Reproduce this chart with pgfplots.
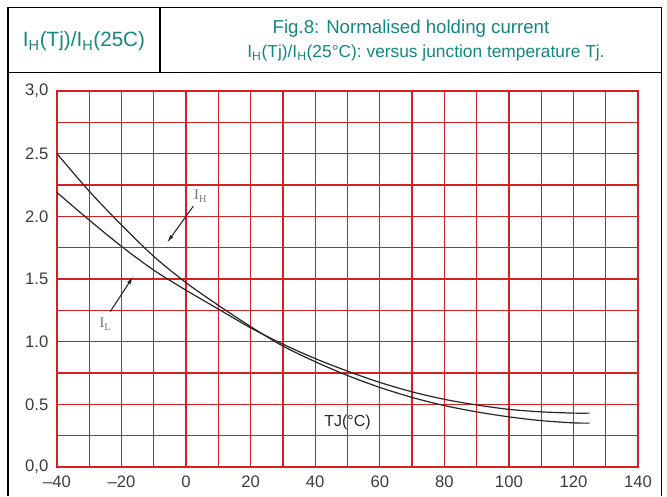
\documentclass[border=0pt]{standalone}
\usepackage{fontspec}
\setmainfont{Liberation Sans}
\newfontfamily\seriffont{Liberation Serif}
\usepackage{pgfplots}
\pgfplotsset{compat=1.18}
\usetikzlibrary{arrows.meta}
\definecolor{tealtext}{RGB}{20,135,128}
\definecolor{gridred}{RGB}{212,32,36}
\definecolor{ticktext}{RGB}{60,60,60}
\begin{document}
\begin{tikzpicture}[x=0.75pt,y=0.75pt]
\useasboundingbox (0,0) rectangle (667,496);
% frame and header
\draw[line width=1.1pt] (8,0) -- (8,488.7) -- (661.7,488.7) -- (661.7,0);
\draw[line width=1.1pt] (8,423.3) -- (661.7,423.3);
\draw[line width=1.1pt] (160,423.3) -- (160,488.7);
\node[text=tealtext, font=\fontsize{15.5}{18}\selectfont, anchor=base] at (84,449) {I\textsubscript{H}(Tj)/I\textsubscript{H}(25C)};
\node[text=tealtext, font=\fontsize{14}{17}\selectfont, anchor=base] at (411,462) {Fig.8: Normalised holding current};
\node[text=tealtext, font=\fontsize{13}{16}\selectfont, anchor=base] at (426,438) {I\textsubscript{H}(Tj)/I\textsubscript{H}(25°C): versus junction temperature Tj.};
\begin{axis}[
  at={(42.75pt,21.75pt)}, anchor=south west,
  scale only axis, width=435.75pt, height=282pt,
  xmin=-40, xmax=140, ymin=0, ymax=3,
  xtick={-40,-20,0,20,40,60,80,100,120,140},
  xticklabels={–40,–20,0,20,40,60,80,100,120,140},
  minor xtick={-30,-10,10,30,50,70,90,110,130},
  ytick={0,0.5,1,1.5,2,2.5,3},
  yticklabels={{0,0},0.5,1.0,1.5,2.0,2.5,{3,0}},
  minor ytick={0.25,0.75,1.25,1.75,2.25,2.75},
  grid=both,
  grid style={gridred, line width=0.95pt},
  major grid style={gridred, line width=0.95pt},
  minor grid style={gridred, line width=0.95pt},
  axis line style={gridred, line width=0.95pt},
  major tick length=0pt, minor tick length=0pt,
  tick label style={text=ticktext, font=\fontsize{12.5}{14}\selectfont},
  yticklabel style={xshift=-3pt},
  xticklabel style={yshift=-3pt},
  clip=false,
]
\addplot[smooth, line width=0.9pt, color=black!85] coordinates {
(-40,2.50) (-30,2.20) (-20,1.93) (-10,1.68) (0,1.47) (10,1.29) (20,1.12) (30,0.965) (40,0.84) (50,0.73) (60,0.635) (70,0.555) (80,0.49) (90,0.44) (100,0.40) (110,0.37) (120,0.352) (125,0.35)
};
\addplot[smooth, line width=0.9pt, color=black!85] coordinates {
(-40,2.19) (-30,1.97) (-20,1.76) (-10,1.57) (0,1.41) (10,1.26) (20,1.11) (30,0.98) (40,0.865) (50,0.765) (60,0.675) (70,0.60) (80,0.54) (90,0.495) (100,0.46) (110,0.44) (120,0.43) (125,0.43)
};
\draw[-{Latex[length=6pt,width=3pt]}, line width=0.8pt, black!85] (axis cs:2.2,2.08) -- (axis cs:-5.9,1.79);
\draw[-{Latex[length=6pt,width=3pt]}, line width=0.8pt, black!85] (axis cs:-23.5,1.24) -- (axis cs:-16.4,1.52);
\node[font=\seriffont\fontsize{11}{12}\selectfont, text=black!55] at (axis cs:4.5,2.16) {I\textsubscript{H}};
\node[font=\seriffont\fontsize{11}{12}\selectfont, text=black!55] at (axis cs:-25,1.14) {I\textsubscript{L}};
\node[font=\fontsize{12}{14}\selectfont, text=black!85] at (axis cs:50,0.36) {TJ(°C)};
\end{axis}
\end{tikzpicture}
\end{document}
